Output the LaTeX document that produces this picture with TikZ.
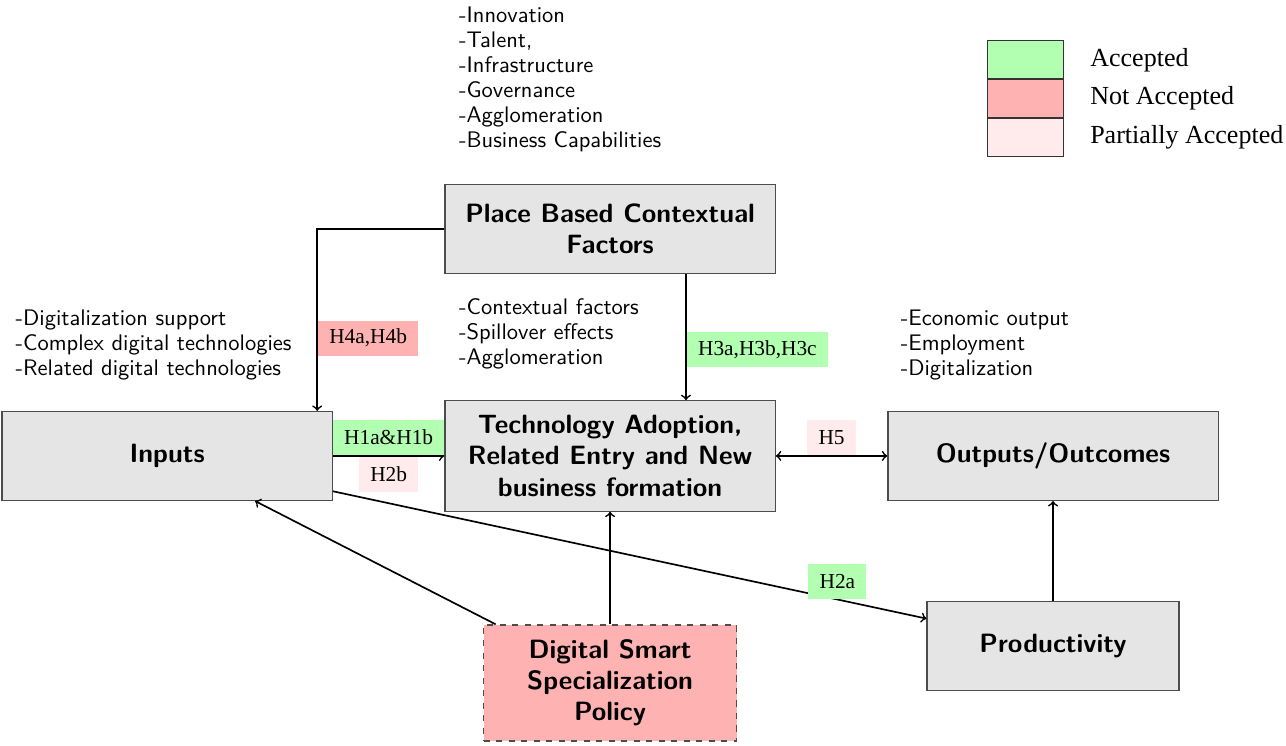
\documentclass[tikz,border=0pt]{standalone}
\usepackage{fontspec}
\newfontfamily\hypfont{Liberation Serif}
\usetikzlibrary{positioning}
\hyphenpenalty=10000
\exhyphenpenalty=10000

\colorlet{accepted}{green!30}
\colorlet{rejected}{red!30}
\colorlet{partial}{red!8}

\tikzset{
  factor/.style={rectangle, draw=black!70, semithick, fill=gray!20, inner xsep=0.1cm, inner ysep=0.25cm,
    text width=5.37cm, minimum width=5.57cm, minimum height=1.5cm, align=flush center,
    font=\sffamily\bfseries\fontsize{12.7}{14.9}\selectfont},
  hyp/.style={fill=#1, inner xsep=0.19cm, inner ysep=0.12cm, minimum height=0.59cm,
    font=\hypfont\fontsize{10.25}{12}\selectfont},
  bullets/.style={anchor=north west, inner sep=0pt, align=left, font=\sffamily\fontsize{10.8}{12}\selectfont},
  legbox/.style={rectangle, draw=black!80, thin, fill=#1, minimum width=1.28cm, minimum height=0.64cm},
  legtext/.style={right=0.32cm of #1, font=\hypfont\fontsize{12.5}{15}\selectfont}
}

\begin{document}
\begin{tikzpicture}[->, thick, node distance=7.47cm]
  \useasboundingbox (0,0) rectangle (21.69,-12.57);

  % Main boxes
  \node (tech) [factor] at (10.29,-7.69) {Technology Adoption, Related Entry and New business formation};
  \node (inputs) [factor, left of=tech] {Inputs};
  \node (outputs) [factor, right of=tech] {Outputs/Outcomes};
  \node (place) [factor, above of=tech, node distance=3.83cm] {Place Based Contextual Factors};
  \node (policy) [factor, dashed, fill=rejected, below of=tech, node distance=3.83cm,
    text width=3.87cm, minimum width=4.27cm] {Digital Smart Specialization Policy};
  \node (prod) [factor, below of=outputs, node distance=3.2cm,
    text width=3.85cm, minimum width=4.25cm] {Productivity};

  % Factor lists
  \node (ctxlist) [bullets] at (7.73,-0.10) {-Innovation\\-Talent,\\-Infrastructure\\-Governance\\-Agglomeration\\-Business Capabilities};
  \node (inlist) [bullets] at (0.25,-5.22) {-Digitalization support\\-Complex digital technologies\\-Related digital technologies};
  \node (spilllist) [bullets] at (7.73,-5.02) {-Contextual factors\\-Spillover effects\\-Agglomeration};
  \node (outlist) [bullets] at (15.18,-5.22) {-Economic output\\-Employment\\-Digitalization};

  % Legend
  \node (legacc) [legbox=accepted] at (17.29,-1.01) {};
  \node (legnot) [legbox=rejected, below=0pt of legacc] {};
  \node (legpart) [legbox=partial, below=0pt of legnot] {};
  \node (legacctext) [legtext=legacc] {Accepted};
  \node (legnottext) [legtext=legnot] {Not Accepted};
  \node (legparttext) [legtext=legpart] {Partially Accepted};

  % Hypotheses
  \draw (place.west) -| node[hyp=rejected, right, pos=0.8] {H4a,H4b} ([xshift=2.53cm]inputs.north);
  \draw ([xshift=1.28cm]place.south) -- node[hyp=accepted, right, pos=0.6] {H3a,H3b,H3c} ([xshift=1.28cm]tech.north);
  \draw (inputs) -- node[hyp=accepted, above] {H1a\&H1b} node[hyp=partial, below] {H2b} (tech);
  \draw[<->] (tech) -- node[hyp=partial, above] {H5} (outputs);
  \draw (inputs) -- node[hyp=accepted, above, pos=0.85] {H2a} (prod);

  % Policy and productivity links
  \draw (policy) -- (inputs);
  \draw (policy) -- (tech);
  \draw (prod) -- (outputs);
\end{tikzpicture}
\end{document}
